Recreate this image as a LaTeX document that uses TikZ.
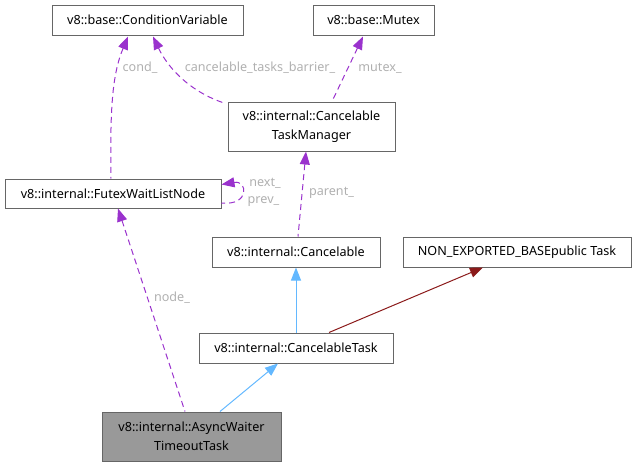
\documentclass[tikz,border=0pt]{standalone}
\usepackage{fontspec}
\setmainfont{Noto Sans}
\usepackage{xcolor}
\usetikzlibrary{arrows.meta,positioning,calc}
\definecolor{usepurple}{HTML}{9A32CD}
\definecolor{inhblue}{HTML}{63B8FF}
\definecolor{privred}{HTML}{8B1A1A}
\definecolor{boxgray}{HTML}{666666}
\definecolor{labelgray}{HTML}{B0B0B0}
\definecolor{focusfill}{HTML}{999999}

\begin{document}
\begin{tikzpicture}[x=1pt,y=-1pt,
		cls/.style={draw=boxgray,fill=white,line width=1pt,font=\fontsize{12.6}{19}\selectfont,inner sep=0pt,align=center,minimum height=30pt},
		focus/.style={cls,fill=focusfill,minimum height=49pt},
		inh/.style={{Triangle[length=13pt,width=10pt]}-,draw=inhblue,line width=1pt},
		prv/.style={{Triangle[length=13pt,width=10pt]}-,draw=privred,line width=1pt},
		use/.style={{Triangle[length=13pt,width=10pt]}-,draw=usepurple,line width=1pt,dash pattern=on 6pt off 4pt},
		lbl/.style={font=\fontsize{12.6}{15}\selectfont,text=labelgray,inner sep=0pt}
		]
		\useasboundingbox (0,0) rectangle (633,466);

		% classes
		\node[cls,minimum width=191pt] (condvar) at (147.5,20) {v8::base::ConditionVariable};
		\node[cls,minimum width=121pt] (mutex) at (373.5,20) {v8::base::Mutex};
		\node[cls,minimum width=167pt,minimum height=49pt] (taskmgr) at (311.5,126.5) {v8::internal::Cancelable\\TaskManager};
		\node[cls,minimum width=216pt,minimum height=29pt] (futex) at (113,193.5) {v8::internal::FutexWaitListNode};
		\node[cls,minimum width=168pt] (cancelable) at (296,252) {v8::internal::Cancelable};
		\node[cls,minimum width=228pt] (task) at (517,252) {NON\_EXPORTED\_BASEpublic Task};
		\node[cls,minimum width=194pt] (canceltask) at (296,348) {v8::internal::CancelableTask};
		\node[focus,minimum width=179pt] (waiter) at (191.5,436.5) {v8::internal::AsyncWaiter\\TimeoutTask};

		% inheritance
		\draw[inh] (cancelable.south) -- (canceltask.north);
		\draw[inh] ($(canceltask.south)+(-18,0)$) -- ($(waiter.north)+(28.5,0)$);
		\draw[prv] ($(task.south)+(-34,0)$) -- ($(canceltask.north)+(33,0)$);

		% usage
		\draw[use] ($(condvar.south)+(-19.5,1)$) .. controls (112,75) and (110,110) .. ($(futex.north)+(-2,0)$);
		\draw[use] ($(condvar.south)+(5.5,1)$) .. controls (168,68) and (190,92) .. ($(taskmgr.north west)+(-2,2)$);
		\draw[use] ($(mutex.south)+(-10.5,1)$) -- ($(taskmgr.north)+(20.5,0)$);
		\draw[use] ($(taskmgr.south)+(-5.5,0)$) -- ($(cancelable.north)+(2,0)$);
		\draw[use] ($(futex.south)+(5,0)$) -- ($(waiter.north)+(-6.5,0)$);
		\draw[use] ($(futex.east)+(0,-9)$) .. controls (248,180) and (250,206) .. ($(futex.east)+(0,9.5)$);

		% member labels
		\node[lbl] (lcond) at (140,68) {cond\_};
		\node[lbl] (lbarrier) at (260,68) {cancelable\_tasks\_barrier\_};
		\node[lbl] (lmutex) at (380,68) {mutex\_};
		\node[lbl] (lnext) at (265,183) {next\_};
		\node[lbl] (lprev) at (263.5,202) {prev\_};
		\node[lbl] (lparent) at (331.5,193) {parent\_};
		\node[lbl] (lnode) at (172,298) {node\_};
	\end{tikzpicture}
\end{document}
